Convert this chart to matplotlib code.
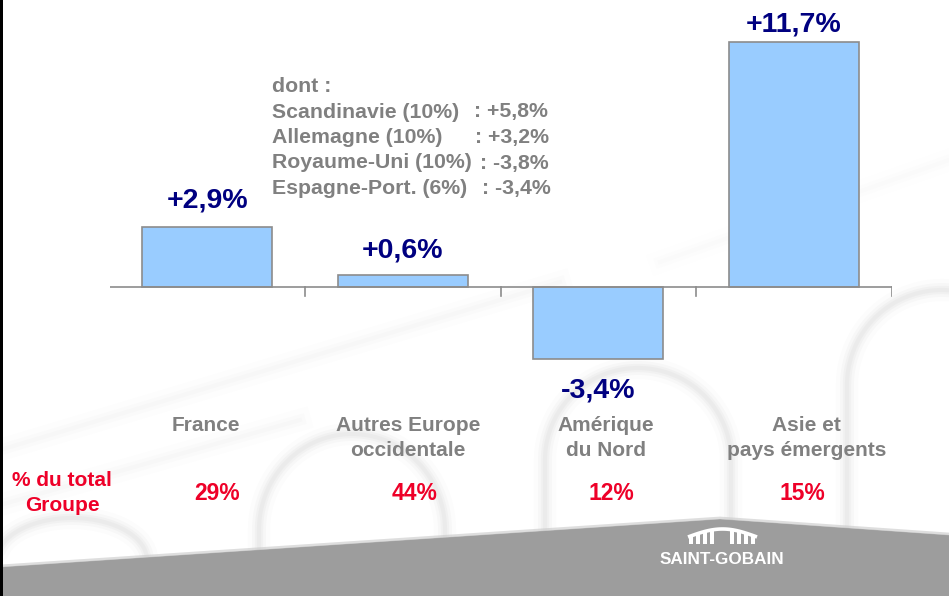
import numpy as np
import matplotlib
matplotlib.use("Agg")
import matplotlib.pyplot as plt
from matplotlib.patches import Polygon, Rectangle

# ---------------- data ----------------
categories = ["France", "Autres Europe\noccidentale", "Amérique\ndu Nord", "Asie et\npays émergents"]
growth = [2.9, 0.6, -3.4, 11.7]
growth_labels = ["+2,9%", "+0,6%", "-3,4%", "+11,7%"]
share_labels = ["29%", "44%", "12%", "15%"]
share_title = ["% du total", "Groupe"]
detail_names = ["Scandinavie (10%)", "Allemagne (10%)", "Royaume-Uni (10%)", "Espagne-Port. (6%)"]
detail_values = [": +5,8%", ": +3,2%", ": -3,8%", ": -3,4%"]

# ---------------- style ----------------
W, H = 949, 596
FONT = ["Liberation Sans", "DejaVu Sans"]
GRAY = "#808080"
NAVY = "#000080"
RED = "#EE0028"
BAR = "#99CCFF"
BAND = "#9D9D9D"
PX = 0.72  # points per pixel at dpi 100

fig = plt.figure(figsize=(W / 100, H / 100), dpi=100)
fig.patch.set_facecolor("white")

# background decoration axes in pixel coordinates
bg = fig.add_axes([0, 0, 1, 1])
bg.set_xlim(0, W)
bg.set_ylim(H, 0)
bg.axis("off")
bg.set_zorder(0)


def arch(cx, rx, spring, ry, bottom=600):
    t = np.linspace(np.pi, 0, 80)
    xs = np.concatenate([[cx - rx], cx + rx * np.cos(t), [cx + rx]])
    ys = np.concatenate([[bottom], spring - ry * np.sin(t), [bottom]])
    for lw, a in [(16, 0.025), (10, 0.04), (6, 0.05), (3, 0.05)]:
        bg.plot(xs, ys, color="#8A8A8A", lw=lw, alpha=a, solid_capstyle="round", zorder=1)


def streak(x0, y0, x1, y1, k=1.0):
    for lw, a in [(16, 0.015), (8, 0.02), (3, 0.025)]:
        bg.plot([x0, x1], [y0, y1], color="#8A8A8A", lw=lw, alpha=a * k, zorder=1)


arch(72, 75, 560, 42)
arch(352, 93, 530, 96)
arch(638, 93, 460, 92)
arch(942, 95, 385, 95)
streak(0, 450, 560, 282)
streak(0, 505, 300, 420)
streak(660, 262, 949, 160, 0.6)

# grey band at the bottom
band = Polygon([(0, 567), (720, 519), (949, 535), (949, 600), (0, 600)],
               closed=True, facecolor=BAND, edgecolor="none", zorder=3)
bg.add_patch(band)
bg.plot([0, 720, 949], [566, 518, 534], color="#C8C8C8", lw=2, alpha=0.6, zorder=3)

# left black border
bg.add_patch(Rectangle((0, 0), 3, H, facecolor="black", edgecolor="none", zorder=5))

# Saint-Gobain logo
t = np.linspace(0, 1, 40)
roof_x = 688 + 69 * t
roof_y = 537 - 8 * np.sin(np.pi * t)
bg.plot(roof_x, roof_y, color="white", lw=2.6, zorder=6, solid_capstyle="butt")
for cxp in [691, 698, 705, 712, 732, 739, 746, 753]:
    top = 537 - 8 * np.sin(np.pi * (cxp - 688) / 69)
    bg.add_patch(Rectangle((cxp - 1.6, top), 3.2, 544 - top, facecolor="white",
                           edgecolor="none", zorder=6))
bg.text(722, 564, "SAINT-GOBAIN", color="white", fontsize=12.3,
        family=FONT, fontweight="bold", ha="center", va="baseline", zorder=6)

# ---------------- main chart ----------------
x0, x1 = 109.5, 891.5
base_y = 287.3
ppu = 20.95
ytop = base_y / ppu
ybot = -(H - base_y) / ppu
ax = fig.add_axes([x0 / W, 0, (x1 - x0) / W, 1])
ax.set_zorder(2)
ax.patch.set_alpha(0)
ax.set_xlim(-0.5, len(categories) - 0.5)
ax.set_ylim(ybot, ytop)
for s in ax.spines.values():
    s.set_visible(False)
ax.set_xticks([])
ax.set_yticks([])

xs = np.arange(len(categories))
ax.bar(xs, growth, width=130 / 195.5, color=BAR, edgecolor="#8C8C8C", linewidth=1.2, zorder=3)
ax.axhline(0, color="#8C8C8C", lw=1.2, zorder=4)
tick_len = 8.5 / ppu
for b in np.arange(-0.5, len(categories), 1.0):
    ax.plot([b, b], [0, -tick_len], color="#8C8C8C", lw=1.2, zorder=4)

# value labels (baseline offsets in px)
label_off = [18.7, 17.7, -39.0, 10.3]
for i, (v, lab) in enumerate(zip(growth, growth_labels)):
    ax.annotate(lab, (i, v), xytext=(0, label_off[i] * PX), textcoords="offset points",
                ha="center", va="baseline", fontsize=20.5, fontweight="bold",
                color=NAVY, family=FONT, zorder=5)

# category labels
cat_dx = [-1.5, 5.5, 7.5, 12.5]
for i, c in enumerate(categories):
    for j, line in enumerate(c.split("\n")):
        ax.annotate(line, (i, 0), xytext=(cat_dx[i] * PX, -(430.7 - base_y + 25 * j) * PX),
                    textcoords="offset points", ha="center", va="baseline",
                    fontsize=15, fontweight="bold", color=GRAY, family=FONT)

# share labels
share_dx = [10, 12, 13, 8.5]
for i, s in enumerate(share_labels):
    ax.annotate(s, (i, 0), xytext=(share_dx[i] * PX, -(500 - base_y) * PX),
                textcoords="offset points", ha="center", va="baseline",
                fontsize=16.5, fontweight="bold", color=RED, family=FONT)
for j, line in enumerate(share_title):
    bg.text(62, 486 + 25 * j, line, ha="center", va="baseline", fontsize=15,
            fontweight="bold", color=RED, family=FONT, zorder=6)

# detail annotation
DFS = 15.3
bg.text(272.5, 92, "dont :", ha="left", va="baseline", fontsize=DFS,
        fontweight="bold", color=GRAY, family=FONT, zorder=6)
value_x = [474, 475, 480, 482]
for k, (n, val) in enumerate(zip(detail_names, detail_values)):
    yb = 117.5 + 25.5 * k
    bg.text(272.5, yb, n, ha="left", va="baseline", fontsize=DFS,
            fontweight="bold", color=GRAY, family=FONT, zorder=6)
    bg.text(value_x[k], yb, val, ha="left", va="baseline", fontsize=DFS,
            fontweight="bold", color=GRAY, family=FONT, zorder=6)

fig.savefig("out.png", dpi=100)
